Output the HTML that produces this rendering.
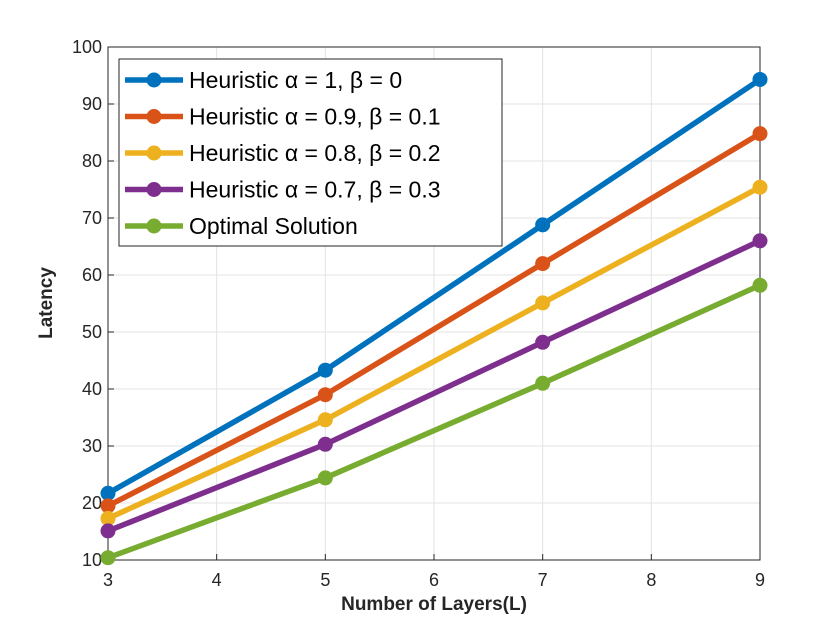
<!DOCTYPE html>
<html><head><meta charset="utf-8"><style>
html,body{margin:0;padding:0;background:#fff;}
svg{display:block;font-family:"Liberation Sans",sans-serif;}
</style></head><body>
<svg id="chart" width="840" height="630" viewBox="0 0 840 630" xmlns="http://www.w3.org/2000/svg">
<rect width="840" height="630" fill="#fff"/>
<g id="grid"></g>
<g id="axes"></g>
<g id="series"></g>
<text x="434" y="610" font-size="19" font-weight="bold" text-anchor="middle" fill="#262626">Number of Layers(L)</text>
<text transform="translate(52,303) rotate(-90)" font-size="19" font-weight="bold" text-anchor="middle" fill="#262626">Latency</text>
<g id="legend"></g>
</svg>
<script>
const categories = [3, 5, 7, 9];
const seriesNames = ["Heuristic α = 1, β = 0","Heuristic α = 0.9, β = 0.1","Heuristic α = 0.8, β = 0.2","Heuristic α = 0.7, β = 0.3","Optimal Solution"];
const heur10 = [21.7, 43.3, 68.8, 94.3];
const heur91 = [19.5, 39.0, 62.0, 84.8];
const heur82 = [17.3, 34.6, 55.1, 75.4];
const heur73 = [15.1, 30.3, 48.2, 66.0];
const optimal = [10.4, 24.4, 41.0, 58.2];
const xTicks = [3,4,5,6,7,8,9];
const yTicks = [10,20,30,40,50,60,70,80,90,100];
const colors = ["#0072BD","#D95319","#EDB120","#7E2F8E","#77AC30"];
const allSeries = [heur10, heur91, heur82, heur73, optimal];

const L=108,R=760,T=47,B=560;
const xs=v=>L+(v-3)/(9-3)*(R-L);
const ys=v=>B-(v-10)/(100-10)*(B-T);
const NS="http://www.w3.org/2000/svg";
function mk(tag,attrs,parent){const e=document.createElementNS(NS,tag);for(const k in attrs)e.setAttribute(k,attrs[k]);parent.appendChild(e);return e;}
const grid=document.getElementById('grid'),axes=document.getElementById('axes'),ser=document.getElementById('series'),leg=document.getElementById('legend');
xTicks.forEach(t=>{
  const g=mk('line',{x1:xs(t),x2:xs(t),y1:T,y2:B,stroke:'#e3e3e3','stroke-width':1},grid);
  
  
  const tk=mk('line',{x1:xs(t),x2:xs(t),y1:B,y2:B-6,stroke:'#262626'},axes);
  
  
  const tx=mk('text',{x:xs(t),y:B+26,'font-size':18,'text-anchor':'middle',fill:'#262626'},axes);
  tx.textContent=t;
  
  
});
yTicks.forEach(t=>{
  const g=mk('line',{x1:L,x2:R,y1:ys(t),y2:ys(t),stroke:'#e3e3e3','stroke-width':1},grid);
  
  
  const tk=mk('line',{x1:L,x2:L+6,y1:ys(t),y2:ys(t),stroke:'#262626'},axes);
  
  
  const tx=mk('text',{x:L-6,y:ys(t)+6,'font-size':18,'text-anchor':'end',fill:'#262626'},axes);
  tx.textContent=t;
  
  
});
const box=mk('rect',{x:L,y:T,width:R-L,height:B-T,fill:'none',stroke:'#262626','stroke-width':1},axes);


allSeries.forEach((d,i)=>{
  const pts=d.map((v,j)=>xs(categories[j])+','+ys(v)).join(' ');
  const pl=mk('polyline',{points:pts,fill:'none',stroke:colors[i],'stroke-width':5.5,'stroke-linejoin':'round'},ser);
  
  
  d.forEach((v,j)=>{
    const c=mk('circle',{cx:xs(categories[j]),cy:ys(v),r:6,fill:colors[i],stroke:colors[i],'stroke-width':3},ser);
    
    
  });
});
const lb=mk('rect',{x:119,y:59,width:383,height:187,fill:'#fff',stroke:'#262626','stroke-width':1},leg);


seriesNames.forEach((n,i)=>{
  const y=80+i*36.5;
  const ln=mk('line',{x1:125,x2:183,y1:y,y2:y,stroke:colors[i],'stroke-width':5.5},leg);
  
  
  const c=mk('circle',{cx:154,cy:y,r:6,fill:colors[i],stroke:colors[i],'stroke-width':3},leg);
  
  
  const t=mk('text',{x:189,y:y+8,'font-size':23,fill:'#000'},leg);
  t.textContent=n;
  
  
});
</script>
</body></html>
